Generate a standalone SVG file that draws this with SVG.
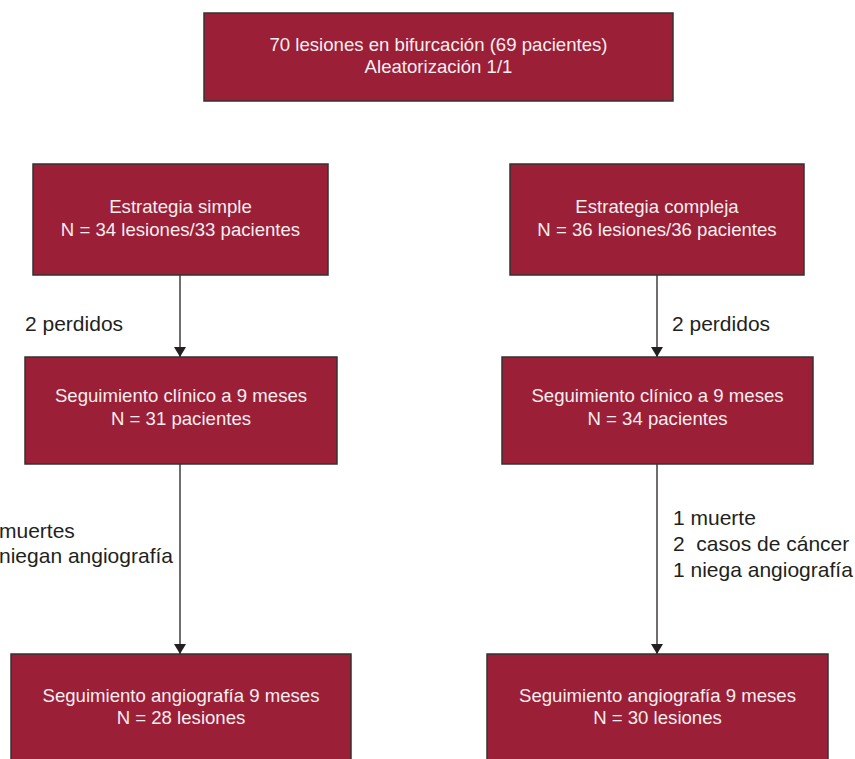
<svg xmlns="http://www.w3.org/2000/svg" width="855" height="759" viewBox="0 0 855 759">
<style>
.box{fill:#9b1f37;stroke:#333;stroke-width:1.5}
.bt{font-family:"Liberation Sans",Arial,sans-serif;font-size:18.6px;fill:#f7eef0;text-anchor:middle}
.lb{font-family:"Liberation Sans",Arial,sans-serif;font-size:21px;fill:#231f20}
.ln{stroke:#231f20;stroke-width:1.3;fill:none}
</style>
<defs>
<marker id="ah" viewBox="0 0 10 12" refX="10" refY="6" markerWidth="10" markerHeight="12" markerUnits="userSpaceOnUse" orient="auto">
<path d="M0,0 L10,6 L0,12 Z" fill="#231f20"/>
</marker>
</defs>
<rect width="855" height="759" fill="#fff"/>
<g id="connectors">
<line class="ln" x1="180" y1="275" x2="180" y2="357" marker-end="url(#ah)"/>
<line class="ln" x1="657" y1="275" x2="657" y2="357" marker-end="url(#ah)"/>
<line class="ln" x1="180" y1="464" x2="180" y2="654" marker-end="url(#ah)"/>
<line class="ln" x1="657" y1="464" x2="657" y2="654" marker-end="url(#ah)"/>
<text class="lb" x="25" y="331">2 perdidos</text>
<text class="lb" x="672" y="331">2 perdidos</text>
<text class="lb" x="-1" y="538">muertes</text>
<text class="lb" x="173" y="563" text-anchor="end">niegan angiografía</text>
<text class="lb" x="673" y="525">1 muerte</text>
<text class="lb" x="673" y="551" xml:space="preserve">2  casos de cáncer</text>
<text class="lb" x="673" y="577">1 niega angiografía</text>
</g>
<g id="n-top">
<rect class="box" x="204" y="13" width="469" height="88"/>
<text class="bt" x="438.5" y="51">70 lesiones en bifurcación (69 pacientes)</text>
<text class="bt" x="438.5" y="73">Aleatorización 1/1</text>
</g>
<g id="n-simple">
<rect class="box" x="33" y="164" width="295" height="111"/>
<text class="bt" x="180.5" y="213">Estrategia simple</text>
<text class="bt" x="180.5" y="236">N = 34 lesiones/33 pacientes</text>
</g>
<g id="n-compleja">
<rect class="box" x="510" y="164" width="294" height="111"/>
<text class="bt" x="657" y="213">Estrategia compleja</text>
<text class="bt" x="657" y="236">N = 36 lesiones/36 pacientes</text>
</g>
<g id="n-clin-left">
<rect class="box" x="25" y="357" width="312" height="107"/>
<text class="bt" x="181" y="402">Seguimiento clínico a 9 meses</text>
<text class="bt" x="181" y="425">N = 31 pacientes</text>
</g>
<g id="n-clin-right">
<rect class="box" x="502" y="357" width="311" height="107"/>
<text class="bt" x="657.5" y="402">Seguimiento clínico a 9 meses</text>
<text class="bt" x="657.5" y="425">N = 34 pacientes</text>
</g>
<g id="n-angio-left">
<rect class="box" x="11" y="654" width="340" height="110"/>
<text class="bt" x="181" y="702">Seguimiento angiografía 9 meses</text>
<text class="bt" x="181" y="724">N = 28 lesiones</text>
</g>
<g id="n-angio-right">
<rect class="box" x="487" y="654" width="341" height="110"/>
<text class="bt" x="657.5" y="702">Seguimiento angiografía 9 meses</text>
<text class="bt" x="657.5" y="724">N = 30 lesiones</text>
</g>
</svg>
